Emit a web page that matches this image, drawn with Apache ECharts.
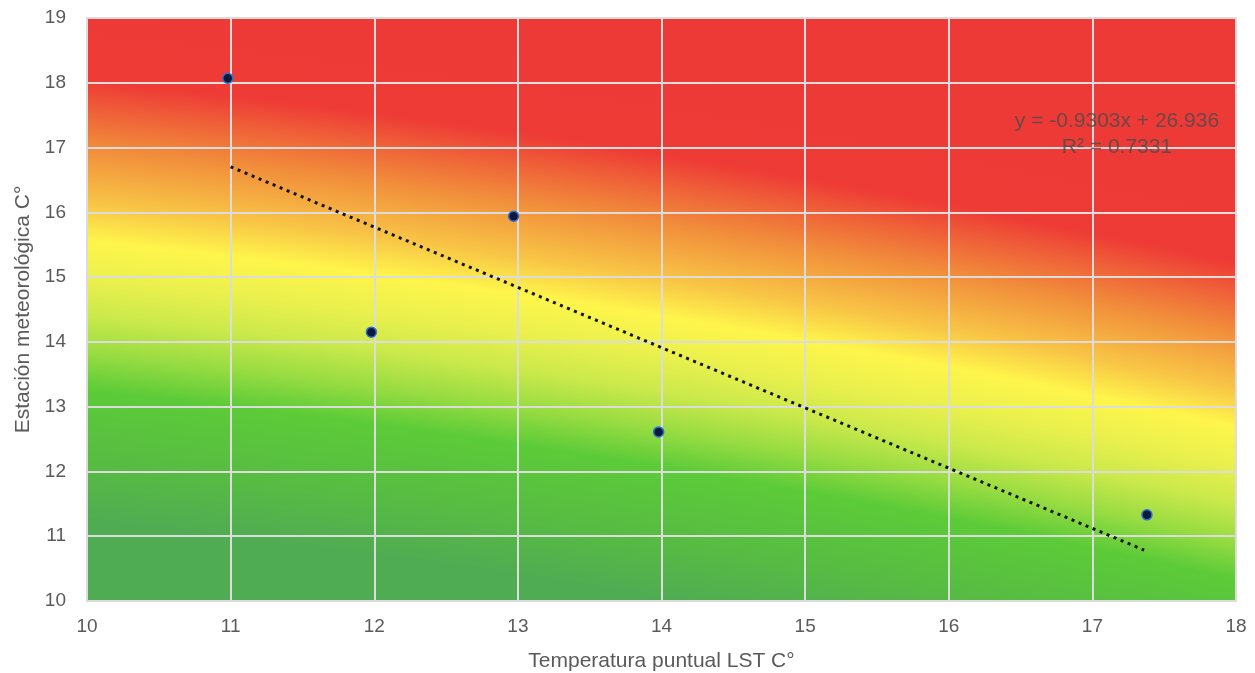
<!DOCTYPE html>
<html>
<head>
<meta charset="utf-8">
<script src="https://cdn.jsdelivr.net/npm/echarts@6/dist/echarts.min.js"></script>
<style>
html,body{margin:0;padding:0;background:#fff;}
#chart{width:1255px;height:673px;}
</style>
</head>
<body>
<div id="chart"></div>
<script>
// Data
const pointX = [10.98, 11.98, 12.97, 13.98, 17.38];
const pointY = [18.07, 14.15, 15.94, 12.61, 11.33];
// Trendline as displayed on the chart
const trendSlope = -0.9303;
const trendIntercept = 26.936;
const trendR2 = '0.7331';
const trendRangeX = [11.0, 17.36];
const xTicks = [10, 11, 12, 13, 14, 15, 16, 17, 18];
const yTicks = [10, 11, 12, 13, 14, 15, 16, 17, 18, 19];

const scatterData = pointX.map((x, i) => [x, pointY[i]]);
const trendData = trendRangeX.map(x => [x, trendSlope * x + trendIntercept]);

// Background: wide radial gradient (green at bottom-left to red at top-right)
const bg = new echarts.graphic.RadialGradient(-895, 9949, 10000, [
  {offset: 0, color: '#4fab52'},
  {offset: 0.9480, color: '#50ac52'},
  {offset: 0.9536, color: '#57bb43'},
  {offset: 0.9609, color: '#5ccb38'},
  {offset: 0.9646, color: '#98dc42'},
  {offset: 0.9683, color: '#cbe94b'},
  {offset: 0.9720, color: '#eaf04d'},
  {offset: 0.97575, color: '#fef54b'},
  {offset: 0.9794, color: '#f8c646'},
  {offset: 0.9850, color: '#f18d3b'},
  {offset: 0.9885, color: '#ef6338'},
  {offset: 0.9917, color: '#ee3b36'},
  {offset: 1, color: '#ee3a36'}
], true);

const chart = echarts.init(document.getElementById('chart'), null, {renderer: 'canvas'});
const font = 'Liberation Sans, Arial, Helvetica, sans-serif';
chart.setOption({
  animation: false,
  backgroundColor: '#ffffff',
  textStyle: {fontFamily: font},
  grid: {
    left: 87, right: 19, top: 18, bottom: 72,
    outerBoundsMode: 'none',
    containLabel: false,
    show: true,
    backgroundColor: bg,
    borderColor: '#c4c4c4',
    borderWidth: 1.5
  },
  xAxis: {
    type: 'value',
    min: xTicks[0], max: xTicks[xTicks.length - 1], interval: 1,
    name: 'Temperatura puntual LST C°',
    nameLocation: 'middle',
    nameGap: 50,
    nameTextStyle: {fontSize: 21, color: '#5a5a5a', fontFamily: font},
    axisLine: {show: false},
    axisTick: {show: false},
    axisLabel: {fontSize: 19, color: '#5a5a5a', margin: 16, fontFamily: font},
    splitLine: {show: true, lineStyle: {color: '#dcdcdc', width: 2}}
  },
  yAxis: {
    type: 'value',
    min: yTicks[0], max: yTicks[yTicks.length - 1], interval: 1,
    name: 'Estación meteorológica C°',
    nameLocation: 'middle',
    nameGap: 53,
    nameTextStyle: {fontSize: 21, color: '#5a5a5a', fontFamily: font},
    axisLine: {show: false},
    axisTick: {show: false},
    axisLabel: {fontSize: 19, color: '#5a5a5a', margin: 21, fontFamily: font},
    splitLine: {show: true, lineStyle: {color: '#dcdcdc', width: 2}}
  },
  graphic: [
    {
      type: 'text', x: 1117, y: 121, z: 10,
      style: {text: 'y = ' + trendSlope + 'x + ' + trendIntercept, fontSize: 21, fill: 'rgba(75,75,75,0.8)', fontFamily: font, align: 'center', verticalAlign: 'middle'}
    },
    {
      type: 'text', x: 1117, y: 147, z: 10,
      style: {text: 'R² = ' + trendR2, fontSize: 21, fill: 'rgba(75,75,75,0.8)', fontFamily: font, align: 'center', verticalAlign: 'middle'}
    }
  ],
  series: [
    {
      type: 'line',
      data: trendData,
      symbol: 'none',
      z: 3,
      lineStyle: {color: '#111111', width: 3, type: [3, 4.6], cap: 'butt'}
    },
    {
      type: 'scatter',
      data: scatterData,
      symbol: 'circle',
      symbolSize: 10,
      z: 4,
      itemStyle: {color: '#0c1a3a', borderColor: '#2f6fd8', borderWidth: 1.5, opacity: 1}
    }
  ]
});
</script>
</body>
</html>
